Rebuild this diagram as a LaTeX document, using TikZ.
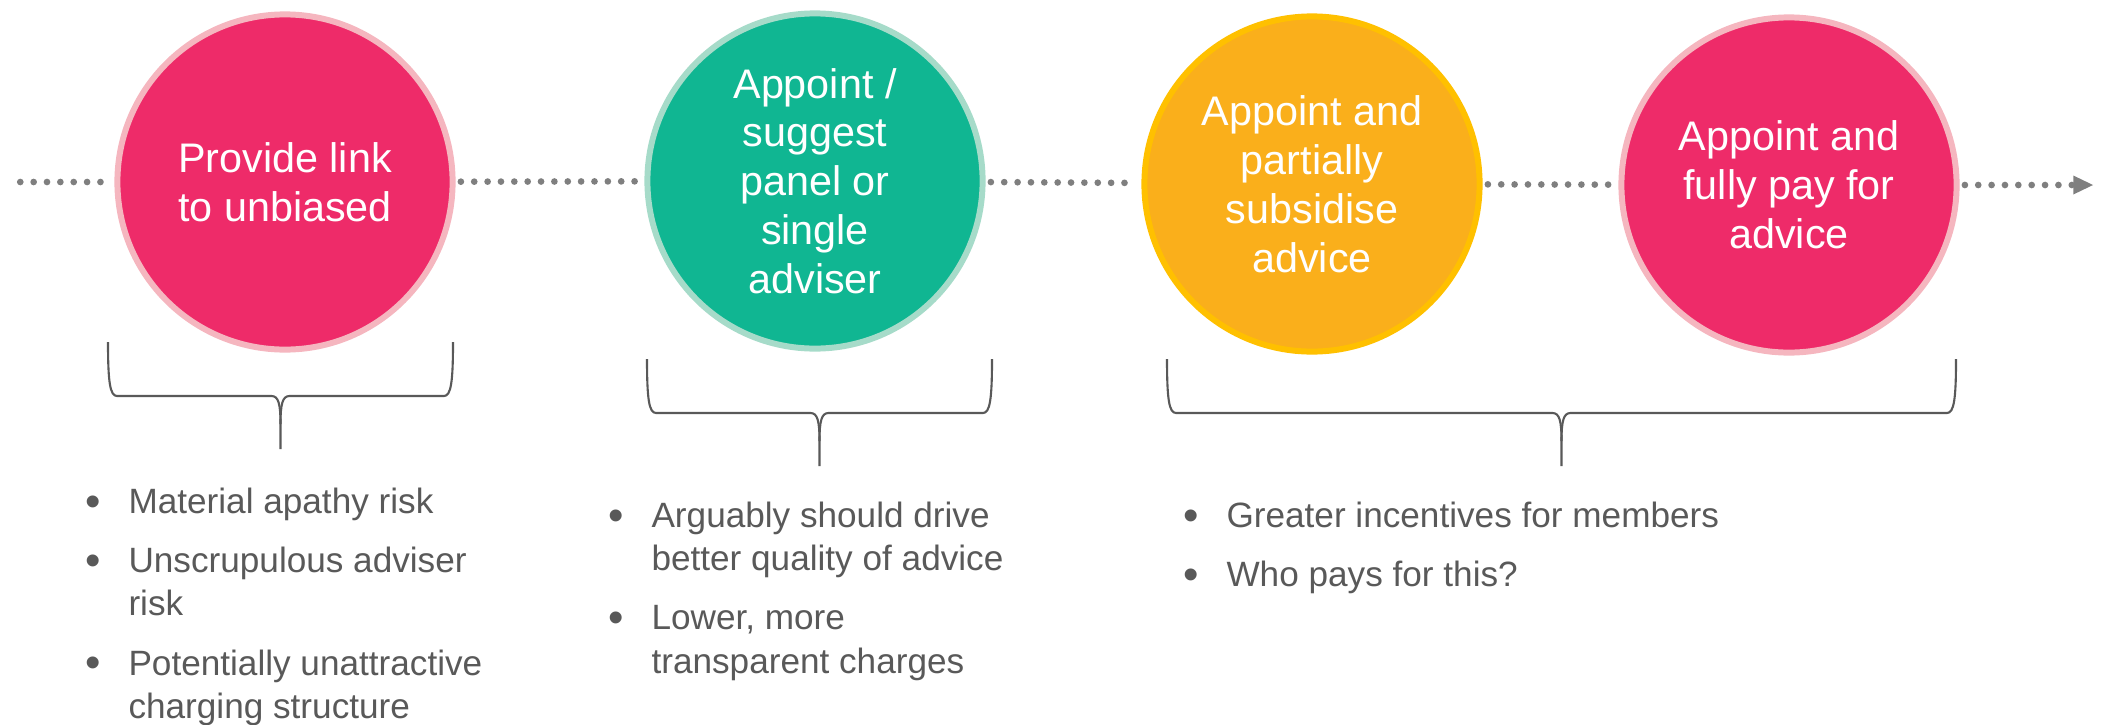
\documentclass[tikz,border=0pt]{standalone}
\usepackage{fontspec}
\setmainfont{Liberation Sans}
\usetikzlibrary{arrows.meta}

\definecolor{rosa}{HTML}{EE2B69}
\definecolor{rosaborde}{HTML}{F5B6BF}
\definecolor{verde}{HTML}{10B692}
\definecolor{verdeborde}{HTML}{A6DBC9}
\definecolor{naranja}{HTML}{FAAF1B}
\definecolor{naranjaborde}{HTML}{FFC000}
\definecolor{gristexto}{HTML}{595959}
\definecolor{grispuntos}{HTML}{7F7F7F}

\tikzset{
  etapa/.style={circle, minimum size=3.35cm, inner sep=0pt, line width=1.7pt, text=white, align=center, font=\fontsize{11.75}{13.9}\selectfont},
  puntos/.style={grispuntos, line width=1.9pt, line cap=round, dash pattern=on 0pt off 3.8pt, shorten <=1.5pt, shorten >=1.5pt},
  llavelinea/.style={gristexto, line width=0.6pt},
  lista/.style={anchor=north west, inner sep=0pt, text=gristexto, font=\fontsize{10}{12.4}\selectfont},
}

\newcommand{\vineta}{\raisebox{-0.08em}{\scalebox{1.25}{•}}} % punto de la lista

% llave: izquierda, derecha, arriba, linea horizontal
\newcommand{\llave}[4]{%
  \draw[llavelinea] (#1,#3) .. controls (#1,#4-14) and (#1+2,#4) .. (#1+9,#4)
    -- ({(#1+#2)/2-9},#4) .. controls ({(#1+#2)/2-2},#4) and ({(#1+#2)/2},#4+8) .. ({(#1+#2)/2},#4+28)
    -- ({(#1+#2)/2},#4+53);
  \draw[llavelinea] ({(#1+#2)/2},#4+28) .. controls ({(#1+#2)/2},#4+8) and ({(#1+#2)/2+2},#4) .. ({(#1+#2)/2+9},#4)
    -- (#2-9,#4) .. controls (#2-2,#4) and (#2,#4-14) .. (#2,#3);
}

\begin{document}
\begin{tikzpicture}[x=0.01cm, y=-0.01cm]
    \useasboundingbox (0,0) rectangle (2103,724); % tamaño de la hoja

    \node[etapa, fill=rosa, draw=rosaborde] (enlace) at (285,182) {Provide link\\to unbiased}; % primer circulo
    \node[etapa, fill=verde, draw=verdeborde] (panel) at (815,181) {Appoint /\\suggest\\panel or\\single\\adviser}; % segundo circulo
    \node[etapa, fill=naranja, draw=naranjaborde] (parcial) at (1312,184) {Appoint and\\partially\\subsidise\\advice}; % tercer circulo
    \node[etapa, fill=rosa, draw=rosaborde] (total) at (1789,185) {Appoint and\\fully pay for\\advice}; % cuarto circulo

    \coordinate (inicio) at (15,182); % primer punto de la linea
    \coordinate (fin) at (2093,185); % punta de la flecha

    \draw[puntos] (inicio) -- (enlace); % linea de puntos
    \draw[puntos] (enlace) -- (panel);
    \draw[puntos] (panel) -- (parcial);
    \draw[puntos] (parcial) -- (total);
    \draw[puntos, shorten >=0pt, -{Triangle[length=5.6pt, width=5.4pt, line width=0pt]}] (total) -- (fin); % flecha final

    \llave{108}{453}{342}{396} % llave bajo el primero
    \llave{647}{992}{359}{413} % llave bajo el segundo
    \llave{1167}{1956}{359}{413} % llave bajo los dos ultimos

    \node[lista] (notas1) at (85,482) {\begin{tabular}{@{}l@{\hspace{7.8pt}}l@{}}
      \vineta&Material apathy risk\\[4.4pt]
      \vineta&Unscrupulous adviser\\
       &risk\\[4.4pt]
      \vineta&Potentially unattractive\\
       &charging structure
    \end{tabular}}; % puntos del primero
    \node[lista] (notas2) at (608,496) {\begin{tabular}{@{}l@{\hspace{7.8pt}}l@{}}
      \vineta&Arguably should drive\\
       &better quality of advice\\[4.4pt]
      \vineta&Lower, more\\
       &transparent charges
    \end{tabular}}; % puntos del segundo
    \node[lista] (notas3) at (1183,496) {\begin{tabular}{@{}l@{\hspace{7.8pt}}l@{}}
      \vineta&Greater incentives for members\\[4.4pt]
      \vineta&Who pays for this?
    \end{tabular}}; % puntos de los ultimos
\end{tikzpicture}
\end{document}
